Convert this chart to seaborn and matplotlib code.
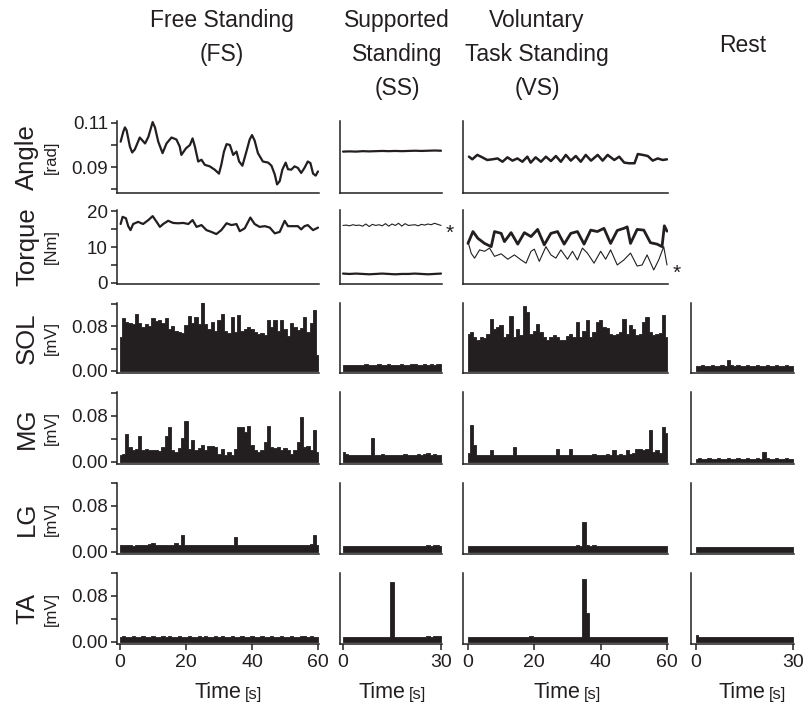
import numpy as np
import seaborn as sns
import matplotlib
matplotlib.use("Agg")
import matplotlib.pyplot as plt

INK = "#231f20"

# ---------------- data ----------------
# Free standing: ankle angle [rad] and torque [Nm]
fs_angle_t = [0.2, 1, 1.5, 2, 3, 3.7, 4.5, 6, 7.6, 8.6,
              9.9, 10.6, 11.6, 12.9, 14.1, 15.6, 17.1, 18.1, 18.6, 20,
              21.2, 22, 22.7, 23.7, 24.7, 25.7, 27.2, 28.7, 30, 30.7,
              31.5, 32.3, 33.3, 34.3, 35.3, 36.1, 37.1, 38.3, 39.3, 40,
              40.8, 41.8, 43.3, 44.9, 45.9, 46.9, 47.6, 48.4, 49.2, 50.2,
              50.9, 51.9, 52.9, 53.9, 54.9, 55.9, 56.9, 57.7, 58.5, 59.3, 60]
fs_angle = [0.1015, 0.106, 0.108, 0.1067, 0.0993, 0.0966, 0.098, 0.1034, 0.1007, 0.1037,
            0.1104, 0.108, 0.1015, 0.0963, 0.1007, 0.1034, 0.1025, 0.0993, 0.0955, 0.0985,
            0.1, 0.103, 0.0993, 0.0925, 0.0933, 0.091, 0.0903, 0.0888, 0.087, 0.091,
            0.097, 0.1004, 0.1, 0.0955, 0.097, 0.0925, 0.0906, 0.097, 0.1025, 0.1045,
            0.102, 0.0963, 0.0925, 0.092, 0.0906, 0.0866, 0.0821, 0.0836, 0.0888, 0.092,
            0.089, 0.0888, 0.0903, 0.0896, 0.0873, 0.0896, 0.0925, 0.0918, 0.087, 0.0861, 0.088]
fs_torque_t = [0.2, 0.8, 1.8, 2.5, 3.2, 4, 5.5, 7, 8.6, 9.9,
               11.1, 12.1, 13.1, 14.6, 16.1, 17.6, 19.2, 20.7, 22, 23.2,
               24.7, 26.2, 27.7, 29.2, 30.7, 32.3, 33.8, 35.3, 36.3, 37.8,
               39.5, 40.8, 42.3, 43.9, 45.4, 46.9, 48.4, 49.9, 50.9, 52.4,
               53.9, 54.9, 55.9, 56.9, 58.5, 60]
fs_torque = [16.4, 18.4, 18, 15.8, 14.7, 16.4, 17, 16.4, 17.5, 18.6,
             17, 15.6, 16.4, 17.3, 16.7, 16.6, 16.7, 16.4, 17.5, 15.6,
             16.1, 14.7, 14.2, 13.6, 14.7, 16.6, 16.1, 16.4, 14.4, 15.2,
             18.2, 16.4, 15.6, 15.8, 15.4, 13.8, 14.2, 17.3, 15.8, 15.8,
             15.8, 14.9, 15.8, 16.1, 14.7, 15.4]

# Supported standing (sampled evenly over 30 s)
ss_angle = [0.0970, 0.0971, 0.0970, 0.0972, 0.0971, 0.0972, 0.0973, 0.0972,
            0.0973, 0.0972, 0.0973, 0.0974, 0.0973, 0.0974, 0.0975, 0.0974]
ss_torque_ext = [16.0, 16.1, 15.9, 16.2, 16.0, 16.1, 15.8, 16.4, 15.7, 16.3,
                 16.0, 16.2, 15.9, 16.5, 15.8, 16.4, 16.0, 16.6, 15.8, 16.5,
                 16.0, 16.1, 16.2, 15.9, 16.3, 16.1, 16.4, 16.2, 16.6, 16.3, 16.0]
ss_torque = [2.6, 2.5, 2.6, 2.5, 2.4, 2.5, 2.6, 2.5, 2.4, 2.5, 2.5, 2.6, 2.5, 2.4, 2.5, 2.6]

# Voluntary task standing
vs_angle_t = [0.3, 1.3, 2.8, 4.3, 5.8, 7.4, 8.9, 10.4, 11.9, 13.4,
              14.9, 16.4, 17.9, 18.9, 20.4, 22, 23.5, 25, 26.5, 28,
              29.5, 31, 32.5, 34, 35.5, 37.1, 39.1, 40.6, 42.1, 44.1,
              45.6, 47.1, 48.6, 50.2, 51.2, 52.7, 54.2, 55.7, 57.2, 58.7, 60]
vs_angle = [0.0947, 0.0935, 0.0955, 0.0944, 0.0932, 0.0935, 0.0939, 0.0924, 0.0944, 0.0929,
            0.0939, 0.0924, 0.0947, 0.0920, 0.0944, 0.0924, 0.0947, 0.0927, 0.0950, 0.0924,
            0.0955, 0.0929, 0.0950, 0.0924, 0.0955, 0.0929, 0.0955, 0.0929, 0.0955, 0.0932,
            0.0947, 0.0920, 0.0917, 0.0917, 0.0959, 0.0955, 0.0950, 0.0929, 0.0939, 0.0932, 0.0935]
vs_torque_t = [0, 1.5, 3, 5, 7, 8, 10, 11, 13, 15,
               17, 19, 21, 23, 25, 27, 29, 31, 33, 35,
               37, 39, 41, 43, 45, 47, 48, 49, 51, 53,
               55, 57, 58.5, 59.2, 60]
vs_torque = [11.0, 14.3, 12.4, 11.0, 10.1, 14.3, 13.8, 11.5, 14.0, 10.8,
             14.0, 12.9, 14.9, 10.6, 13.8, 14.3, 10.8, 13.8, 14.3, 10.8,
             14.7, 14.3, 15.2, 11.0, 14.6, 15.2, 15.6, 11.0, 14.9, 14.7,
             11.2, 10.8, 10.1, 15.9, 14.4]
vs_torque_ext_t = [0, 1, 2, 3.5, 5, 6.5, 8, 10, 12, 14,
                   16, 17.5, 19, 20, 21.5, 23.5, 25, 26.5, 28, 30,
                   31.5, 33, 34.5, 36, 38, 40, 41.5, 43, 45, 47,
                   49, 51, 52.5, 54, 56, 57.5, 59, 60]
vs_torque_ext = [11.5, 8.2, 6.9, 9.2, 8.8, 9.7, 7.4, 8.1, 6.6, 7.8,
                 6.4, 5.5, 8.8, 9.4, 6.0, 10.1, 7.8, 6.9, 9.2, 6.6,
                 8.8, 6.4, 9.7, 8.3, 5.5, 8.8, 6.6, 9.2, 5.0, 6.4,
                 8.3, 4.7, 5.0, 7.8, 3.6, 6.4, 10.1, 5.0]

# rectified EMG envelopes [mV], one value per second
fs_sol = [0.060, 0.095, 0.087, 0.085, 0.084, 0.102, 0.085, 0.078, 0.084, 0.080,
          0.095, 0.089, 0.090, 0.086, 0.095, 0.075, 0.080, 0.071, 0.069, 0.068,
          0.081, 0.097, 0.085, 0.096, 0.084, 0.122, 0.084, 0.075, 0.088, 0.072,
          0.090, 0.102, 0.072, 0.068, 0.096, 0.070, 0.100, 0.072, 0.074, 0.079,
          0.074, 0.070, 0.066, 0.068, 0.064, 0.090, 0.078, 0.090, 0.072, 0.091,
          0.075, 0.062, 0.085, 0.079, 0.073, 0.076, 0.096, 0.070, 0.085, 0.108, 0.028]
fs_mg = [0.012, 0.014, 0.049, 0.026, 0.021, 0.023, 0.046, 0.020, 0.023, 0.021,
         0.020, 0.021, 0.019, 0.026, 0.046, 0.060, 0.020, 0.017, 0.025, 0.041,
         0.072, 0.023, 0.038, 0.021, 0.025, 0.029, 0.020, 0.028, 0.027, 0.026,
         0.014, 0.023, 0.013, 0.017, 0.012, 0.023, 0.061, 0.060, 0.052, 0.062,
         0.029, 0.021, 0.017, 0.021, 0.035, 0.062, 0.026, 0.025, 0.026, 0.021,
         0.025, 0.020, 0.014, 0.021, 0.035, 0.079, 0.026, 0.027, 0.020, 0.056, 0.017]
fs_lg = [0.012, 0.013, 0.012, 0.012, 0.011, 0.013, 0.012, 0.013, 0.012, 0.014,
         0.016, 0.012, 0.012, 0.013, 0.012, 0.013, 0.012, 0.015, 0.013, 0.030,
         0.013, 0.012, 0.013, 0.012, 0.013, 0.012, 0.012, 0.013, 0.012, 0.012,
         0.013, 0.012, 0.013, 0.012, 0.013, 0.026, 0.012, 0.013, 0.012, 0.012,
         0.013, 0.012, 0.012, 0.013, 0.012, 0.012, 0.013, 0.012, 0.012, 0.013,
         0.012, 0.012, 0.013, 0.012, 0.012, 0.012, 0.013, 0.012, 0.014, 0.030, 0.012]
fs_ta = [0.009, 0.010, 0.009, 0.009, 0.010, 0.009, 0.009, 0.010, 0.009, 0.009,
         0.010, 0.009, 0.009, 0.010, 0.009, 0.010, 0.009, 0.009, 0.010, 0.009,
         0.009, 0.010, 0.009, 0.009, 0.010, 0.009, 0.010, 0.009, 0.009, 0.010,
         0.009, 0.010, 0.009, 0.009, 0.010, 0.009, 0.009, 0.010, 0.009, 0.009,
         0.010, 0.009, 0.009, 0.010, 0.009, 0.009, 0.010, 0.009, 0.009, 0.010,
         0.009, 0.009, 0.010, 0.009, 0.009, 0.010, 0.011, 0.009, 0.010, 0.009, 0.009]
ss_sol = [0.011, 0.010, 0.011, 0.010, 0.011, 0.011, 0.010, 0.012, 0.011, 0.010,
          0.011, 0.012, 0.010, 0.011, 0.012, 0.011, 0.010, 0.011, 0.012, 0.011,
          0.011, 0.012, 0.012, 0.011, 0.010, 0.012, 0.011, 0.012, 0.011, 0.012, 0.012]
ss_mg = [0.018, 0.014, 0.012, 0.012, 0.013, 0.012, 0.012, 0.013, 0.012, 0.042,
         0.013, 0.012, 0.014, 0.012, 0.012, 0.013, 0.013, 0.012, 0.013, 0.014,
         0.013, 0.012, 0.013, 0.014, 0.013, 0.014, 0.016, 0.013, 0.014, 0.013, 0.012]
ss_lg = [0.010, 0.011, 0.010, 0.010, 0.011, 0.010, 0.011, 0.010, 0.010, 0.011,
         0.010, 0.011, 0.010, 0.010, 0.011, 0.010, 0.011, 0.010, 0.011, 0.010,
         0.011, 0.010, 0.011, 0.010, 0.011, 0.011, 0.012, 0.011, 0.012, 0.012, 0.011]
ss_ta = [0.009, 0.008, 0.009, 0.008, 0.009, 0.008, 0.009, 0.009, 0.008, 0.009,
         0.008, 0.009, 0.008, 0.009, 0.008, 0.105, 0.009, 0.008, 0.009, 0.008,
         0.009, 0.008, 0.009, 0.009, 0.008, 0.009, 0.010, 0.009, 0.010, 0.011, 0.010]
vs_sol = [0.066, 0.069, 0.061, 0.055, 0.061, 0.058, 0.066, 0.093, 0.075, 0.078,
          0.081, 0.061, 0.066, 0.097, 0.061, 0.074, 0.064, 0.115, 0.105, 0.066,
          0.072, 0.084, 0.069, 0.061, 0.055, 0.061, 0.064, 0.061, 0.055, 0.056,
          0.062, 0.066, 0.061, 0.087, 0.061, 0.072, 0.090, 0.061, 0.069, 0.087,
          0.090, 0.079, 0.077, 0.066, 0.064, 0.066, 0.069, 0.093, 0.066, 0.081,
          0.074, 0.064, 0.066, 0.087, 0.096, 0.069, 0.064, 0.066, 0.068, 0.099, 0.061]
vs_mg = [0.015, 0.064, 0.030, 0.012, 0.012, 0.013, 0.012, 0.021, 0.012, 0.013,
         0.012, 0.013, 0.012, 0.013, 0.026, 0.013, 0.012, 0.012, 0.013, 0.012,
         0.012, 0.013, 0.012, 0.013, 0.012, 0.012, 0.013, 0.023, 0.013, 0.012,
         0.013, 0.023, 0.012, 0.013, 0.012, 0.013, 0.012, 0.013, 0.014, 0.013,
         0.012, 0.013, 0.014, 0.013, 0.020, 0.013, 0.014, 0.013, 0.020, 0.014,
         0.016, 0.022, 0.022, 0.021, 0.022, 0.056, 0.018, 0.020, 0.015, 0.061, 0.050]
vs_lg = [0.010, 0.011, 0.010, 0.011, 0.010, 0.010, 0.011, 0.010, 0.011, 0.010,
         0.010, 0.011, 0.010, 0.011, 0.010, 0.011, 0.010, 0.010, 0.011, 0.010,
         0.011, 0.010, 0.011, 0.010, 0.011, 0.010, 0.011, 0.010, 0.011, 0.010,
         0.011, 0.010, 0.011, 0.012, 0.011, 0.053, 0.012, 0.011, 0.012, 0.011,
         0.010, 0.011, 0.010, 0.011, 0.010, 0.011, 0.011, 0.010, 0.011, 0.010,
         0.011, 0.010, 0.011, 0.010, 0.011, 0.010, 0.011, 0.010, 0.011, 0.010, 0.011]
vs_ta = [0.008, 0.009, 0.008, 0.008, 0.009, 0.008, 0.009, 0.008, 0.008, 0.009,
         0.008, 0.009, 0.008, 0.009, 0.008, 0.008, 0.009, 0.008, 0.009, 0.010,
         0.008, 0.009, 0.008, 0.009, 0.008, 0.009, 0.008, 0.009, 0.008, 0.009,
         0.008, 0.009, 0.008, 0.009, 0.008, 0.109, 0.050, 0.009, 0.008, 0.009,
         0.008, 0.009, 0.008, 0.009, 0.008, 0.009, 0.008, 0.009, 0.008, 0.009,
         0.008, 0.009, 0.008, 0.009, 0.008, 0.009, 0.008, 0.009, 0.008, 0.009, 0.008]
rest_sol = [0.009, 0.009, 0.010, 0.009, 0.009, 0.010, 0.009, 0.009, 0.010, 0.009,
            0.020, 0.010, 0.009, 0.010, 0.009, 0.009, 0.010, 0.009, 0.009, 0.010,
            0.009, 0.009, 0.010, 0.009, 0.009, 0.010, 0.009, 0.009, 0.010, 0.009, 0.009]
rest_mg = [0.006, 0.007, 0.006, 0.006, 0.007, 0.006, 0.006, 0.007, 0.006, 0.006,
           0.007, 0.006, 0.006, 0.007, 0.006, 0.006, 0.007, 0.006, 0.006, 0.007,
           0.006, 0.017, 0.007, 0.006, 0.006, 0.007, 0.006, 0.006, 0.007, 0.006, 0.006]
rest_lg = [0.008, 0.009, 0.008, 0.008, 0.009, 0.008, 0.008, 0.009, 0.008, 0.008,
           0.009, 0.008, 0.008, 0.009, 0.008, 0.008, 0.009, 0.008, 0.008, 0.009,
           0.008, 0.008, 0.009, 0.008, 0.008, 0.009, 0.008, 0.008, 0.009, 0.008, 0.008]
rest_ta = [0.012, 0.009, 0.008, 0.008, 0.009, 0.008, 0.008, 0.009, 0.008, 0.008,
           0.009, 0.008, 0.008, 0.009, 0.008, 0.008, 0.009, 0.008, 0.008, 0.009,
           0.008, 0.008, 0.009, 0.008, 0.008, 0.009, 0.008, 0.008, 0.009, 0.008, 0.008]

col_titles = ["Free Standing\n(FS)", "Supported\nStanding\n(SS)",
              "Voluntary\nTask Standing\n(VS)", "Rest"]
row_names = ["Angle", "Torque", "SOL", "MG", "LG", "TA"]
row_units = ["[rad]", "[Nm]", "[mV]", "[mV]", "[mV]", "[mV]"]
col_xticks = [[0, 20, 40, 60], [0, 30], [0, 20, 40, 60], [0, 30]]

emg = {
    "SOL": [fs_sol, ss_sol, vs_sol, rest_sol],
    "MG": [fs_mg, ss_mg, vs_mg, rest_mg],
    "LG": [fs_lg, ss_lg, vs_lg, rest_lg],
    "TA": [fs_ta, ss_ta, vs_ta, rest_ta],
}

# ---------------- style ----------------
sns.set_theme(style="ticks")
plt.rcParams['font.family'] = ['Liberation Sans', 'DejaVu Sans']
plt.rcParams.update({
    "axes.linewidth": 1.1,
    "axes.edgecolor": INK,
    "xtick.color": INK, "ytick.color": INK,
    "xtick.major.size": 4.5, "ytick.major.size": 4.5,
    "ytick.minor.size": 4.5,
    "xtick.major.width": 1.1, "ytick.major.width": 1.1, "ytick.minor.width": 1.1,
    "xtick.labelsize": 14, "ytick.labelsize": 13.5,
    "text.color": INK,
})

W, H = 808, 705
fig = plt.figure(figsize=(W / 100, H / 100), dpi=100)


def px_axes(x0, x1, y0, y1):
    return fig.add_axes([x0 / W, 1 - y1 / H, (x1 - x0) / W, (y1 - y0) / H])


# column geometry in pixels: spine x, right end, xlim
cols = [(117, 319, (-0.9, 60.3)), (340, 442, (-0.92, 30.3)),
        (463, 668, (-1.5, 60.3)), (691, 794, (-1.55, 30.3))]
rows = [(121, 193, (0.0782, 0.1109)), (210, 284, (-0.3, 20.3)),
        (303, 373, (-0.0036, 0.121)), (392, 464, (-0.0035, 0.1217)),
        (483, 554, (-0.0035, 0.12)), (573, 644, (-0.0035, 0.12))]

for r, (y0, y1, ylim) in enumerate(rows):
    name = row_names[r]
    for c, (x0, x1, xlim) in enumerate(cols):
        if c == 3 and r < 2:
            continue
        ax = px_axes(x0, x1, y0, y1)
        sns.despine(ax=ax)
        ax.set_facecolor("none")

        if name == "Angle":
            if c == 0:
                sns.lineplot(x=fs_angle_t, y=fs_angle, ax=ax, color=INK, lw=1.6)
            elif c == 1:
                sns.lineplot(x=np.linspace(0, 30, len(ss_angle)), y=ss_angle, ax=ax, color=INK, lw=1.6)
            else:
                sns.lineplot(x=vs_angle_t, y=vs_angle, ax=ax, color=INK, lw=1.8)
        elif name == "Torque":
            if c == 0:
                sns.lineplot(x=fs_torque_t, y=fs_torque, ax=ax, color=INK, lw=1.6)
            elif c == 1:
                te = np.linspace(0, 30, len(ss_torque_ext))
                sns.lineplot(x=te, y=ss_torque_ext, ax=ax, color=INK, lw=0.8)
                sns.lineplot(x=np.linspace(0, 30, len(ss_torque)), y=ss_torque, ax=ax, color=INK, lw=1.6)
                ax.annotate("*", (te[-1], ss_torque_ext[-1]), xytext=(3, -6),
                            textcoords="offset points", fontsize=15, ha="left", va="center",
                            annotation_clip=False)
            else:
                sns.lineplot(x=vs_torque_ext_t, y=vs_torque_ext, ax=ax, color=INK, lw=0.8)
                sns.lineplot(x=vs_torque_t, y=vs_torque, ax=ax, color=INK, lw=2.0)
                ax.annotate("*", (vs_torque_ext_t[-1], vs_torque_ext[-1]), xytext=(4, -6),
                            textcoords="offset points", fontsize=15, ha="left", va="center",
                            annotation_clip=False)
        else:
            vals = emg[name][c]
            t = np.linspace(0, xlim[1] - 0.3, len(vals))
            ax.fill_between(t, 0, vals, step="mid", color=INK, lw=0.6)

        ax.set_xlim(*xlim)
        ax.set_ylim(*ylim)
        ax.set_xlabel("")
        ax.set_ylabel("")

        # y ticks only on the free standing column
        if c == 0:
            if name == "Angle":
                ax.set_yticks([0.09, 0.11], ["0.09", "0.11"])
                ax.set_yticks([0.08, 0.10], minor=True)
            elif name == "Torque":
                ax.set_yticks([0, 10, 20], ["0", "10", "20"])
                ax.set_yticks([5, 15], minor=True)
            else:
                ax.set_yticks([0.0, 0.08], ["0.00", "0.08"])
                ax.set_yticks([0.04, 0.12], minor=True)
            ax.tick_params(axis="y", which="both", pad=2)
        else:
            ax.set_yticks([])

        if r == len(rows) - 1:
            ax.set_xticks(col_xticks[c])
            ax.tick_params(axis="x", pad=3)
            split = [241, 405, 580, 765][c]
            fig.text(split / W, 1 - 692 / H, "Time", ha="right", va="center", fontsize=15.5)
            fig.text((split + 4) / W, 1 - 694 / H, "[s]", ha="left", va="center", fontsize=12)
        else:
            ax.set_xticks([])

    # row labels
    yc = 1 - (y0 + y1) / 2 / H
    fig.text(27 / W, yc, name, rotation=90, ha="center", va="center", fontsize=18.5)
    fig.text(51 / W, yc, row_units[r], rotation=90, ha="center", va="center", fontsize=12)

# column titles
title_x = [222, 397, 537, 743]
title_y = [9, 9, 9, 34]
for c, txt in enumerate(col_titles):
    fig.text(title_x[c] / W, 1 - title_y[c] / H, txt, ha="center", va="top",
             fontsize=16.5, linespacing=1.6)

fig.savefig("out.png", dpi=100)
